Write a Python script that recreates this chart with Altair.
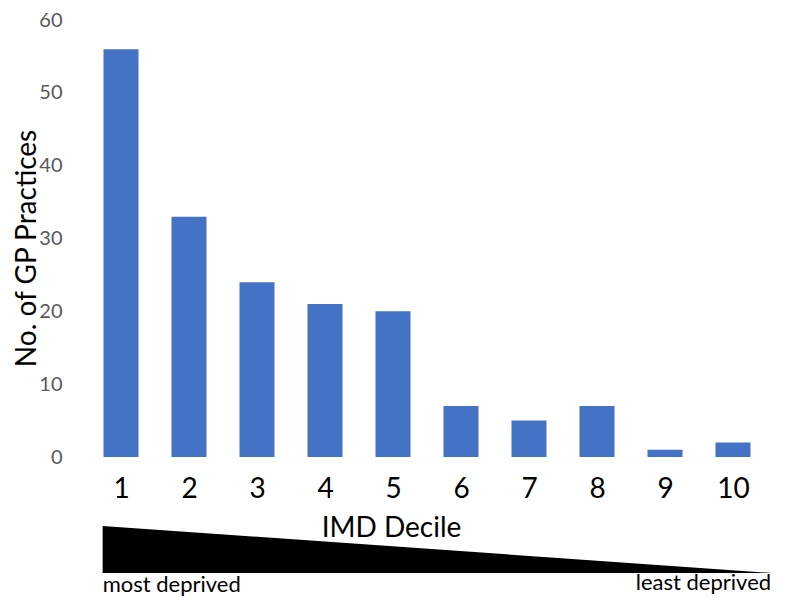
import altair as alt
import pandas as pd

# ---- data ----
DECILES = [1, 2, 3, 4, 5, 6, 7, 8, 9, 10]
PRACTICES = [56, 33, 24, 21, 20, 7, 5, 7, 1, 2]
Y_TICKS = [0, 10, 20, 30, 40, 50, 60]

# deprivation wedge (drawn on the same scales, below the axis)
WEDGE_X = [0.73, 10.59]
WEDGE_TOP = [-9.47, -15.93]
WEDGE_BOTTOM = [-15.93, -15.93]

LEFT_LABEL = ["most deprived"]
LEFT_X = [0.73]
LEFT_Y = [-18.54]
RIGHT_LABEL = ["least deprived"]
RIGHT_X = [10.56]
RIGHT_Y = [-18.26]

bars_df = pd.DataFrame({"decile": DECILES, "n": PRACTICES})
wedge_df = pd.DataFrame({"decile": WEDGE_X, "n": WEDGE_TOP, "n2": WEDGE_BOTTOM})
left_df = pd.DataFrame({"decile": LEFT_X, "n": LEFT_Y, "t": LEFT_LABEL})
right_df = pd.DataFrame({"decile": RIGHT_X, "n": RIGHT_Y, "t": RIGHT_LABEL})

FONT = "Lato"
xscale = alt.Scale(domain=[0.5, 10.5], nice=False, zero=False)
yscale = alt.Scale(domain=[0, 60], nice=False, zero=False)

xaxis = alt.Axis(values=DECILES, format="d", title="IMD Decile",
                 grid=False, domain=False, ticks=False, tickSize=0,
                 labelFontSize=28, labelColor="#000000", labelPadding=18,
                 labelFont=FONT, titleFont=FONT, titleFontSize=28,
                 titleFontWeight="normal", titleColor="#000000",
                 titleX=309, titleY=71, titleBaseline="middle",
                 titleAlign="center")
yaxis = alt.Axis(values=Y_TICKS, title="No. of GP Practices",
                 grid=False, domain=False, ticks=False, tickSize=0,
                 labelFontSize=20, labelColor="#595959", labelPadding=20,
                 labelFont=FONT, titleFont=FONT, titleFontSize=28,
                 titleFontWeight="normal", titleColor="#000000",
                 titleX=-55, titleY=228, titleBaseline="middle",
                 titleAlign="center", titleAngle=270)

X = alt.X("decile:Q", scale=xscale, axis=xaxis)
Y = alt.Y("n:Q", scale=yscale, axis=yaxis)

bars = alt.Chart(bars_df).mark_bar(color="#4472C4", size=35).encode(x=X, y=Y)

wedge = alt.Chart(wedge_df).mark_area(color="#000000", clip=False).encode(
    x=X, y=Y, y2="n2:Q",
)

left_text = alt.Chart(left_df).mark_text(
    align="left", baseline="alphabetic", fontSize=22, font=FONT, color="#000000", clip=False
).encode(x=X, y=Y, text="t:N")

right_text = alt.Chart(right_df).mark_text(
    align="right", baseline="alphabetic", fontSize=22, font=FONT, color="#000000", clip=False
).encode(x=X, y=Y, text="t:N")

chart = alt.layer(bars, wedge, left_text, right_text).properties(
    width=690,
    height=437,
    autosize=alt.AutoSizeParams(type="none"),
    padding={"left": 74, "right": 7, "top": 12, "bottom": 144},
).configure(font=FONT, background="white").configure_view(stroke=None)

chart.save("out.html", embed_options={"renderer": "svg", "actions": False})
